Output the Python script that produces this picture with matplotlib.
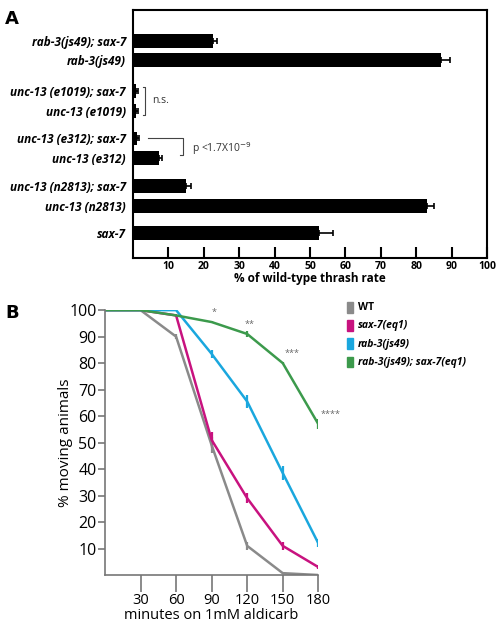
import matplotlib
matplotlib.use("Agg")
import matplotlib.pyplot as plt
import numpy as np

# panel A data
strains = ["rab-3(js49); sax-7", "rab-3(js49)",
           "unc-13 (e1019); sax-7", "unc-13 (e1019)",
           "unc-13 (e312); sax-7", "unc-13 (e312)",
           "unc-13 (n2813); sax-7", "unc-13 (n2813)",
           "sax-7"]
groups = [0, 0, 1, 1, 2, 2, 3, 3, 4]
thrash = [22.5, 87.0, 0.8, 0.8, 1.2, 7.5, 15.0, 83.0, 52.5]
thrash_err = [1.2, 2.5, 0.5, 0.5, 0.6, 0.8, 1.3, 2.0, 4.0]
xticks_a = [10, 20, 30, 40, 50, 60, 70, 80, 90, 100]

# panel B data
minutes = [0, 30, 60, 90, 120, 150, 180]
wt = [100, 100, 90, 49, 11, 0.7, 0]
wt_err = [0, 0, 0.8, 3, 1.5, 0, 0]
sax7 = [100, 100, 98, 51, 29, 11, 3]
sax7_err = [0, 0, 0.5, 3, 2, 1.5, 0.8]
rab3 = [100, 100, 100, 83.5, 65.5, 38.5, 12]
rab3_err = [0, 0, 0, 1.5, 2.5, 2.5, 1.5]
double = [100, 100, 98, 95.5, 91, 80, 57]
double_err = [0, 0, 0, 0.5, 1.2, 0.5, 2]
stars = ["", "", "", "*", "**", "***", "****"]
xticks_b = [30, 60, 90, 120, 150, 180]
yticks_b = [10, 20, 30, 40, 50, 60, 70, 80, 90, 100]

font = ["Open Sans", "DejaVu Sans"]
cond = ["Liberation Sans Narrow", "Open Sans", "DejaVu Sans"]
plt.rcParams["font.family"] = font

fig = plt.figure(figsize=(4.96, 6.24), dpi=100)

# ---------------- panel A ----------------
ax = fig.add_axes([0.268, 0.5865, 0.714, 0.3975])
ypos = np.arange(len(strains)) + np.array(groups) * 0.4
ypos[2:] += 0.15
ax.barh(ypos, thrash, height=0.7, color="black",
        xerr=[np.zeros(len(thrash)), thrash_err],
        error_kw=dict(ecolor="black", elinewidth=1.2, capsize=2.5, capthick=1.2))
ax.set_xlim(0, 100)
ax.set_ylim(ypos[-1] + 1.25, ypos[0] - 1.55)
ax.set_yticks(ypos)
ax.set_yticklabels(strains, fontsize=8.5, fontweight="bold", style="italic")
ax.tick_params(axis="y", length=0, pad=5)
ax.set_xticks(xticks_a)
ax.set_xticklabels([str(v) for v in xticks_a], fontsize=7.5, fontweight="bold")
ax.tick_params(axis="x", direction="in", length=8, width=1.5, pad=2)
for s in ax.spines.values():
    s.set_linewidth(1.5)
ax.set_xlabel("% of wild-type thrash rate", fontsize=8.5, fontweight="bold", labelpad=0)

# n.s. bracket
br = "#444444"
y1, y2 = ypos[2], ypos[3]
ax.plot([2.8, 3.4, 3.4, 2.8], [y1 - 0.2, y1 - 0.2, y2 + 0.2, y2 + 0.2], color=br, lw=0.8)
ax.text(5.3, (y1 + y2) / 2, "n.s.", fontsize=7.5, color="#333333", va="center")
# p-value bracket
y1, y2 = ypos[4], ypos[5]
ax.plot([4.3, 14.0, 14.0, 13.2], [y1, y1, y2 - 0.15, y2 - 0.15], color=br, lw=0.8)
ax.text(16.8, (y1 + y2) / 2, r"p <1.7X10$^{-9}$", fontsize=7.5, color="#333333", va="center")

fig.text(0.01, 0.962, "A", fontsize=13, fontweight="bold", family="DejaVu Sans")

# ---------------- panel B ----------------
bx = fig.add_axes([0.2117, 0.0785, 0.43, 0.4245])
series = [("WT", wt, wt_err, "#8a8a8a", "normal"),
          ("sax-7(eq1)", sax7, sax7_err, "#c8127f", "italic"),
          ("rab-3(js49)", rab3, rab3_err, "#1aa7de", "italic"),
          ("rab-3(js49); sax-7(eq1)", double, double_err, "#3c9a4c", "italic")]
for name, vals, err, col, st in series:
    bx.errorbar(minutes, vals, yerr=err, color=col, lw=1.8, elinewidth=1.6,
                capsize=0, label=name)
for m, v, s in zip(minutes, double, stars):
    if s:
        bx.text(m + 2, v + 2, s, fontsize=6.5, color="#666666", ha="center" if len(s) < 3 else "left",
                va="bottom")
bx.set_xlim(0, 180)
bx.set_ylim(0, 100)
bx.set_xticks(xticks_b)
bx.set_yticks(yticks_b)
bx.set_xticklabels([str(v) for v in xticks_b], family=cond, fontsize=10.5)
bx.set_yticklabels([str(v) for v in yticks_b], family=cond, fontsize=11.5)
bx.tick_params(axis="x", length=12, width=1.2, color="#777777", pad=1)
bx.tick_params(axis="y", length=5, width=1.2, color="#777777", pad=1)
for k in ["top", "right"]:
    bx.spines[k].set_visible(False)
for k in ["left", "bottom"]:
    bx.spines[k].set_color("#777777")
    bx.spines[k].set_linewidth(1.2)
bx.set_ylabel("% moving animals", family=font, fontsize=11, labelpad=-3)
bx.set_xlabel("minutes on 1mM aldicarb", family=font, fontsize=10.5, labelpad=0)

# legend drawn manually as colour swatches
for i, (name, vals, err, col, st) in enumerate(series):
    yy = 0.507 - i * 0.0292
    fig.patches.append(plt.Rectangle((0.700, yy - 0.008), 0.011, 0.017, color=col,
                                     transform=fig.transFigure, figure=fig))
    fig.text(0.722, yy, name, fontsize=7.5, fontweight="bold", style=st, va="center")

fig.text(0.01, 0.49, "B", fontsize=13, fontweight="bold", family="DejaVu Sans")

fig.savefig("out.png", dpi=100)
